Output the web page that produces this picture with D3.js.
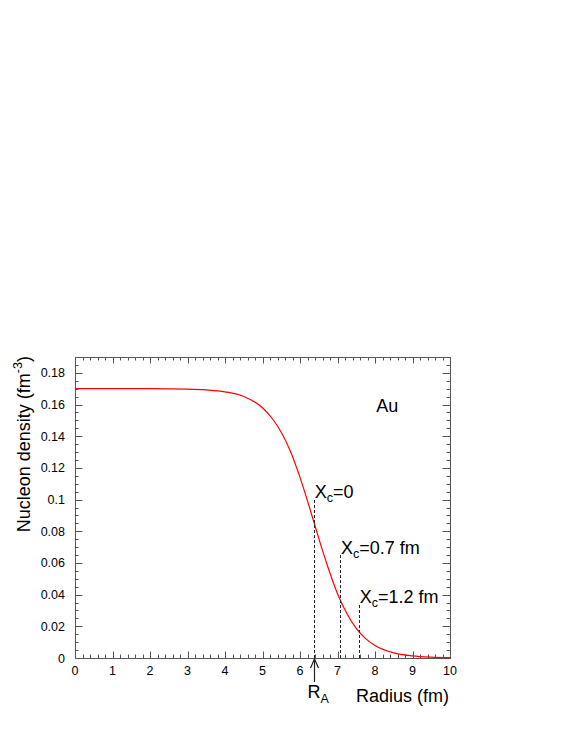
<!DOCTYPE html>
<html lang="en">
<head>
<meta charset="utf-8">
<title>Nucleon density</title>
<script src="https://cdn.jsdelivr.net/npm/d3@7"></script>
<style>
  body { margin: 0; background: #fff; }
  text { font-family: "Liberation Sans", Arial, sans-serif; fill: #000; }
</style>
</head>
<body>
<script>
// density curve (radius in fm, density in fm^-3)
var radius  = [0, 1, 2, 3, 3.5, 4, 4.5, 5, 5.25, 5.5, 5.75, 6, 6.25, 6.5, 6.75, 7, 7.25, 7.5, 7.75, 8, 8.5, 9, 9.5, 10];
var density = [0.170, 0.170, 0.170, 0.1697, 0.1692, 0.168, 0.1651, 0.158, 0.1515, 0.1425, 0.1302, 0.114, 0.0953, 0.0755, 0.0570, 0.0406, 0.0281, 0.0187, 0.0122, 0.0079, 0.0032, 0.0013, 0.0005, 0.0002];

// cut positions and where their dashed lines stop
var cutLabels = ["0", "0.7 fm", "1.2 fm"];
var cutX      = [6.38, 7.08, 7.58];
var cutTop    = [0.1004, 0.065, 0.0339];

var RA = 6.38;

var w = 567, h = 733;
var fLeft = 75, fRight = 450, fTop = 357, fBottom = 658;

var svg = d3.select("body").append("svg")
    .attr("width", w)
    .attr("height", h);

var xScale = d3.scaleLinear().domain([0, 10]).range([fLeft, fRight]);
var yScale = d3.scaleLinear().domain([0, 0.19]).range([fBottom, fTop]);

var axisColor = "#555";

// frame
svg.append("rect")
    .attr("x", fLeft + 0.5).attr("y", fTop + 0.5)
    .attr("width", fRight - fLeft).attr("height", fBottom - fTop)
    .attr("fill", "none").attr("stroke", axisColor).attr("stroke-width", 1);

// ticks
var xMajor = d3.range(0, 10.01, 1);
var xMinor = d3.range(0, 10.01, 0.2);
var yMajor = d3.range(0, 0.1801, 0.02);
var yMinor = d3.range(0, 0.1901, 0.005);

var ticks = svg.append("g").attr("stroke", axisColor).attr("stroke-width", 1);

xMinor.forEach(function (v) {
    var major = Math.abs(v - Math.round(v)) < 1e-6;
    var len = major ? 6.5 : 3.5;
    var x = Math.round(xScale(v)) + 0.5;
    ticks.append("line").attr("x1", x).attr("x2", x).attr("y1", fBottom).attr("y2", fBottom - len);
    ticks.append("line").attr("x1", x).attr("x2", x).attr("y1", fTop).attr("y2", fTop + len);
});
yMinor.forEach(function (v) {
    var major = Math.abs(v / 0.02 - Math.round(v / 0.02)) < 1e-6;
    var len = major ? 7.5 : 3.5;
    var y = Math.round(yScale(v)) + 0.5;
    ticks.append("line").attr("x1", fLeft).attr("x2", fLeft + len).attr("y1", y).attr("y2", y);
    ticks.append("line").attr("x1", fRight).attr("x2", fRight - len).attr("y1", y).attr("y2", y);
});

// tick labels
svg.append("g").selectAll("text").data(xMajor).join("text")
    .attr("x", d => xScale(d))
    .attr("y", fBottom + 16.5)
    .attr("text-anchor", "middle")
    .attr("font-size", 12.5)
    .text(d => d3.format("d")(d));

svg.append("g").selectAll("text").data(yMajor).join("text")
    .attr("x", fLeft - 10)
    .attr("y", d => yScale(d) + 4.5)
    .attr("text-anchor", "end")
    .attr("font-size", 12.5)
    .text(d => d === 0 ? "0" : d3.format("~g")(+d.toFixed(2)));

// axis titles
var yt = svg.append("text")
    .attr("transform", "translate(29.5," + (fTop - 1) + ") rotate(-90)")
    .attr("text-anchor", "end")
    .attr("font-size", 18);
yt.append("tspan").text("Nucleon density (fm");
yt.append("tspan").attr("font-size", 12.5).attr("dy", -8).text("-3");
yt.append("tspan").attr("dy", 8).text(")");

svg.append("text")
    .attr("x", fRight - 1)
    .attr("y", fBottom + 44)
    .attr("text-anchor", "end")
    .attr("font-size", 18)
    .text("Radius (fm)");

// curve
var pts = radius.map((r, i) => [r, density[i]]);
svg.append("path")
    .datum(pts)
    .attr("fill", "none")
    .attr("stroke", "#f00")
    .attr("stroke-width", 1.2)
    .attr("d", d3.line()
        .x(d => xScale(d[0]))
        .y(d => yScale(d[1]))
        .curve(d3.curveMonotoneX));

// dashed cut lines and labels
cutX.forEach(function (cx, i) {
    var x = Math.round(xScale(cx)) + 0.5;
    svg.append("line")
        .attr("x1", x).attr("x2", x)
        .attr("y1", yScale(0)).attr("y2", yScale(cutTop[i]))
        .attr("stroke", "#222").attr("stroke-width", 1)
        .attr("stroke-dasharray", "3,2");
    var t = svg.append("text")
        .attr("x", xScale(cx) + 0.5)
        .attr("y", yScale(cutTop[i]) - 1)
        .attr("font-size", 18);
    t.append("tspan").text("X");
    t.append("tspan").attr("font-size", 12.5).attr("dy", 4).text("c");
    t.append("tspan").attr("dy", -4).text("=" + cutLabels[i]);
});

// R_A arrow
var ax = Math.round(xScale(RA)) + 0.5;
svg.append("line")
    .attr("x1", ax).attr("x2", ax)
    .attr("y1", fBottom + 24).attr("y2", fBottom + 1)
    .attr("stroke", "#222").attr("stroke-width", 1.2);
svg.append("path")
    .attr("d", "M" + (ax - 4) + "," + (fBottom + 10) + "L" + ax + "," + (fBottom + 1) + "L" + (ax + 4) + "," + (fBottom + 10))
    .attr("fill", "none").attr("stroke", "#222").attr("stroke-width", 1.2);
var ra = svg.append("text")
    .attr("x", ax - 7)
    .attr("y", fBottom + 39.5)
    .attr("font-size", 18);
ra.append("tspan").text("R");
ra.append("tspan").attr("font-size", 12.5).attr("dy", 5).text("A");

// nucleus label
svg.append("text")
    .attr("x", xScale(8.03))
    .attr("y", yScale(0.1553))
    .attr("font-size", 18)
    .text("Au");
</script>
</body>
</html>
